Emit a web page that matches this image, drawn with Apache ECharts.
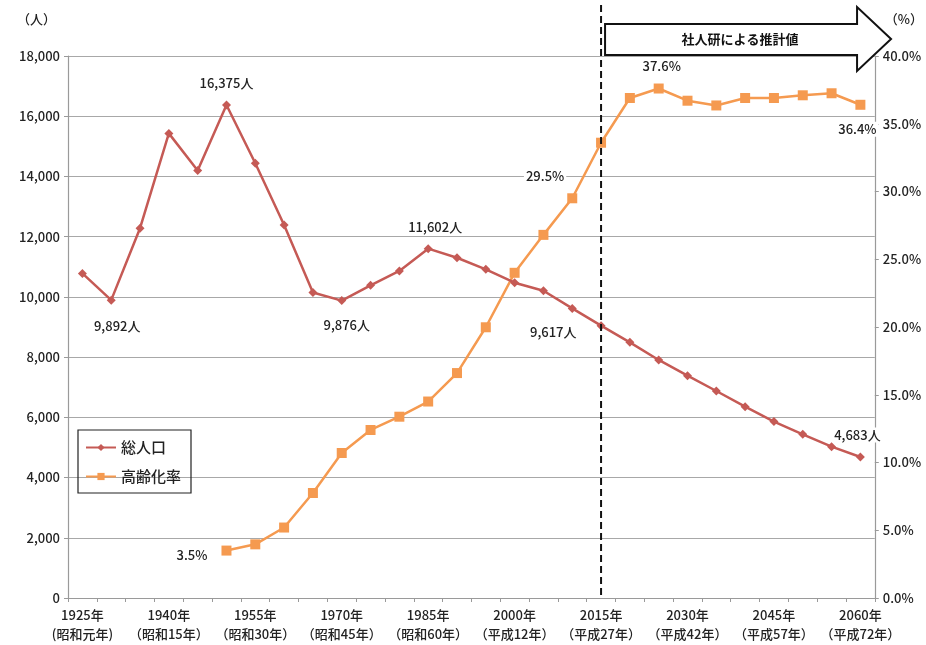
<!DOCTYPE html>
<html>
<head>
<meta charset="utf-8">
<script src="https://cdn.jsdelivr.net/npm/echarts@6/dist/echarts.min.js"></script>
<style>
  html, body { margin: 0; padding: 0; background: #fff; }
  #chart { width: 926px; height: 645px; }
</style>
</head>
<body>
<div id="chart"></div>
<script>
// Census years (5-year steps) and the era names shown under every third tick
const years = ['1925年','1930年','1935年','1940年','1945年','1950年','1955年','1960年','1965年','1970年',
  '1975年','1980年','1985年','1990年','1995年','2000年','2005年','2010年','2015年','2020年',
  '2025年','2030年','2035年','2040年','2045年','2050年','2055年','2060年'];
const eraLabels = {
  '1925年': '(昭和元年)', '1940年': '（昭和15年）', '1955年': '（昭和30年）', '1970年': '（昭和45年）',
  '1985年': '（昭和60年）', '2000年': '（平成12年）', '2015年': '（平成27年）', '2030年': '（平成42年）',
  '2045年': '（平成57年）', '2060年': '（平成72年）'
};

// Total population (persons)
const population = [10780, 9892, 12280, 15430, 14200, 16375, 14440, 12390, 10145, 9876,
  10385, 10860, 11602, 11300, 10915, 10470, 10205, 9617, 9045, 8490,
  7905, 7385, 6875, 6355, 5860, 5435, 5025, 4683];

// Share of population aged 65+ (%)
const agingRate = [null, null, null, null, null, 3.5, 3.96, 5.2, 7.75, 10.7,
  12.4, 13.38, 14.5, 16.6, 19.98, 24.0, 26.8, 29.5, 33.6, 36.9,
  37.6, 36.7, 36.35, 36.9, 36.9, 37.1, 37.25, 36.4];

const projectionStart = '2015年';
const projectionText = '社人研による推計値';

const FONT = '"Noto Sans CJK JP", "Noto Sans", sans-serif';
const TXT = '#222';
const RED = '#C55A55';
const ORANGE = '#F59A50';

// Which points carry a value label, and where it sits
const popLabelStyle = {
  1:  { position: 'bottom', distance: 14, offset: [6, 0] },
  5:  { position: 'top', distance: 10, offset: [0, 0] },
  9:  { position: 'bottom', distance: 12, offset: [5, 0] },
  12: { position: 'top', distance: 10, offset: [7, 0] },
  17: { position: 'bottom', distance: 12, offset: [-19, 0] },
  27: { position: 'top', distance: 10, offset: [-3, 0] }
};
const rateLabelStyle = {
  5:  { position: 'left', distance: 12, offset: [0, 4] },
  17: { position: 'left', distance: 1, offset: [0, -22] },
  20: { position: 'top', distance: 10, offset: [3, 0] },
  27: { position: 'bottom', distance: 12, offset: [-3, 0] }
};

const labelBase = {
  show: true, color: TXT, fontFamily: FONT, fontSize: 13, fontWeight: 500,
  backgroundColor: '#fff', padding: [1, 2]
};

function withLabels(values, styles, fmt) {
  return values.map((v, i) => {
    if (v == null) return v;
    const s = styles[i];
    if (!s) return v;
    return { value: v, label: Object.assign({}, labelBase, s, { formatter: p => fmt(p.value) }) };
  });
}

const chart = echarts.init(document.getElementById('chart'), null, { renderer: 'canvas' });

const tickText = { color: TXT, fontSize: 13, fontWeight: 500, fontFamily: FONT };

chart.setOption({
  animation: false,
  backgroundColor: '#fff',
  textStyle: { fontFamily: FONT },
  grid: { left: 68, right: 49, top: 56, bottom: 47 },
  legend: {
    orient: 'vertical', left: 78, top: 430,
    borderColor: '#222', borderWidth: 1.2,
    padding: [10, 10, 9, 7],
    itemWidth: 30, itemHeight: 9, itemGap: 14,
    textStyle: { color: TXT, fontSize: 15, fontWeight: 500, fontFamily: FONT },
    data: ['総人口', '高齢化率']
  },
  xAxis: {
    type: 'category', data: years, boundaryGap: true,
    axisLine: { lineStyle: { color: '#9a9a9a', width: 1.2 } },
    axisTick: { show: true, interval: 0, length: 4, lineStyle: { color: '#9a9a9a' } },
    axisLabel: Object.assign({
      interval: 2, margin: 8, lineHeight: 19,
      formatter: v => v + '\n' + (eraLabels[v] || '')
    }, tickText)
  },
  yAxis: [
    {
      type: 'value', min: 0, max: 18000, interval: 2000,
      name: '（人）', nameLocation: 'end', nameGap: 30,
      nameTextStyle: Object.assign({ align: 'right', padding: [0, 12, 0, 0] }, tickText),
      axisLine: { show: true, lineStyle: { color: '#9a9a9a', width: 1.2 } },
      axisTick: { show: true, length: 4, lineStyle: { color: '#9a9a9a' } },
      axisLabel: Object.assign({ margin: 8, formatter: v => v.toLocaleString('en-US') }, tickText),
      splitLine: { lineStyle: { color: '#a8a8a8', width: 1.2 } }
    },
    {
      type: 'value', min: 0, max: 40, interval: 5, position: 'right',
      name: '（%）', nameLocation: 'end', nameGap: 30,
      nameTextStyle: Object.assign({ align: 'left', padding: [0, 0, 0, 10] }, tickText),
      axisLine: { show: true, lineStyle: { color: '#9a9a9a', width: 1.2 } },
      axisTick: { show: true, length: 4, lineStyle: { color: '#9a9a9a' } },
      axisLabel: Object.assign({ margin: 8, formatter: v => v.toFixed(1) + '%' }, tickText),
      splitLine: { show: false }
    }
  ],
  series: [
    {
      name: '総人口', type: 'line', yAxisIndex: 0,
      data: withLabels(population, popLabelStyle, v => v.toLocaleString('en-US') + '人'),
      symbol: 'diamond', symbolSize: 9,
      lineStyle: { color: RED, width: 2.5 },
      itemStyle: { color: RED },
      z: 3
    },
    {
      name: '高齢化率', type: 'line', yAxisIndex: 1,
      data: withLabels(agingRate, rateLabelStyle, v => v.toFixed(1) + '%'),
      symbol: 'rect', symbolSize: 10,
      lineStyle: { color: ORANGE, width: 2.5 },
      itemStyle: { color: ORANGE },
      z: 2
    }
  ]
});

// Projection marker: dashed divider at the start year plus the arrow banner above the plot
const xStart = chart.convertToPixel({ xAxisIndex: 0 }, projectionStart);
const yBase = chart.convertToPixel({ yAxisIndex: 0 }, 0);
const bx = xStart + 4;
const arrowPts = [
  [bx, 24], [bx + 252, 24], [bx + 252, 7], [bx + 286, 39],
  [bx + 252, 71], [bx + 252, 55], [bx, 55]
];
chart.setOption({
  graphic: [
    {
      type: 'line', z: 10,
      shape: { x1: xStart, y1: 5, x2: xStart, y2: yBase },
      style: { stroke: '#111', lineWidth: 2, lineDash: [7, 4] }
    },
    {
      type: 'polygon', z: 10,
      shape: { points: arrowPts },
      style: { fill: '#fff', stroke: '#111', lineWidth: 2 }
    },
    {
      type: 'text', z: 11, x: bx + 135, y: 39,
      style: { text: projectionText, fill: '#111', font: 'bold 13px ' + FONT,
        textAlign: 'center', textVerticalAlign: 'middle' }
    }
  ]
});
</script>
</body>
</html>
